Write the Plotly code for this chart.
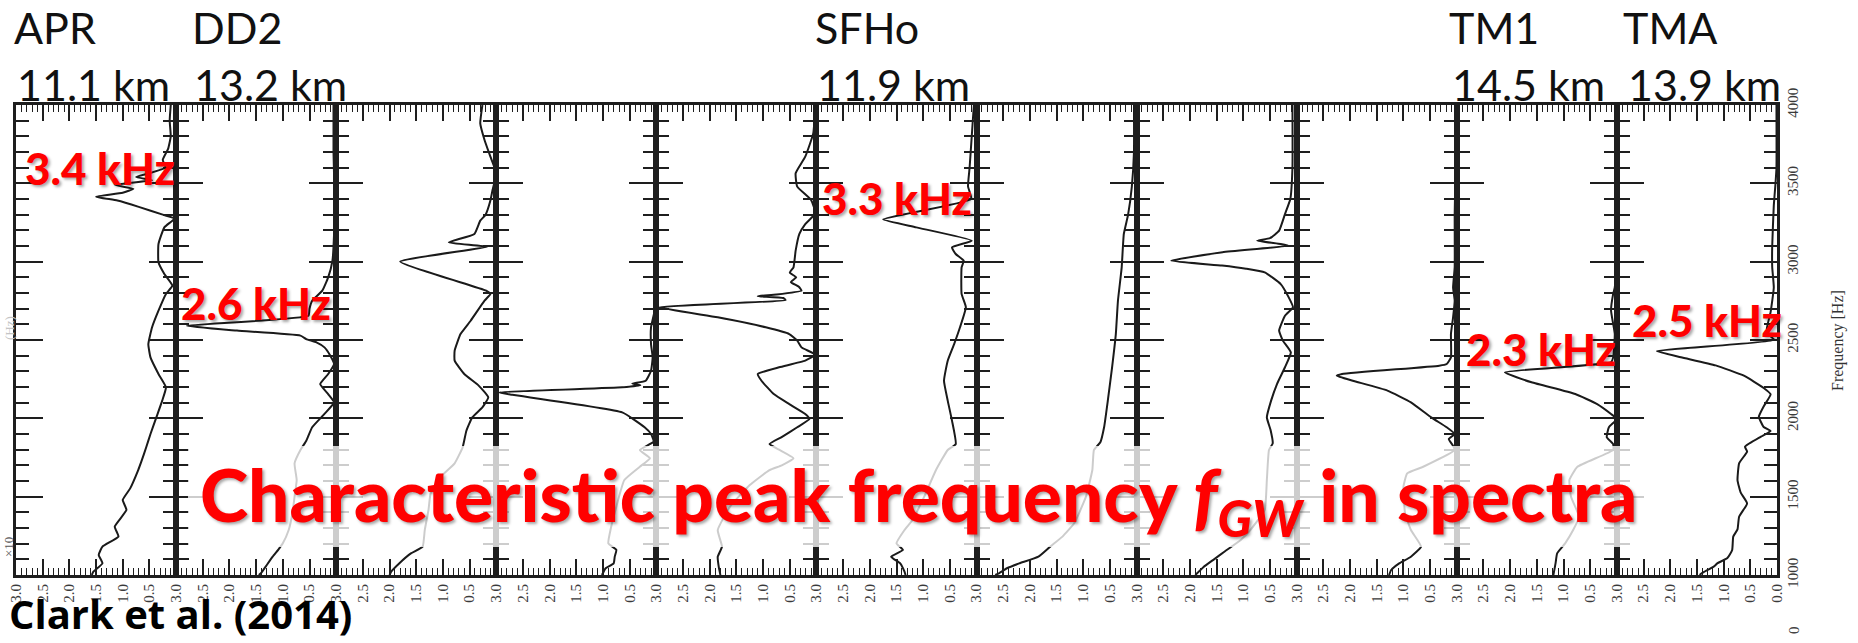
import plotly.graph_objects as go

W, H = 1858, 643
L, R, T, B = 16, 1777, 105, 575   # plot-area edges in px

# ---------------- data (frequency in Hz, spectral amplitude) ----------------
panel_names = ["APR", "DD2", "", "", "", "SFHo", "", "", "", "TM1", "TMA"]
panel_radii = ["11.1 km", "13.2 km", "", "", "", "11.9 km", "", "", "", "14.5 km", "13.9 km"]

p1_f = [4000, 3900, 3800, 3720, 3650, 3600, 3560, 3540, 3520, 3490, 3465, 3440, 3415, 3390, 3350, 3300, 3275,
        3219, 3113, 2996, 2921, 2847, 2794, 2687, 2581, 2474, 2389, 2283, 2198, 2113, 2006, 1900, 1815, 1725,
        1670, 1553, 1479, 1415, 1309, 1245, 1181, 1128, 1074, 1021, 1000]
p1_a = [0.10, 0.12, 0.10, 0.15, 0.25, 0.20, 0.55, 0.75, 0.45, 1.15, 0.80, 1.00, 1.50, 1.10, 0.70, 0.25, 0.03,
        0.22, 0.33, 0.33, 0.22, 0.07, 0.19, 0.33, 0.45, 0.52, 0.48, 0.33, 0.19, 0.26, 0.37, 0.48, 0.56, 0.65,
        0.71, 0.86, 1.00, 0.93, 1.15, 1.08, 1.38, 1.45, 1.38, 1.55, 1.58]

p2_f = [4000, 3700, 3400, 3177, 3006, 2900, 2815, 2751, 2700, 2655, 2591, 2560, 2528, 2506, 2485, 2453, 2400,
        2347, 2283, 2219, 2155, 2102, 2028, 1943, 1857, 1798, 1713, 1606, 1500, 1394, 1287, 1202, 1164, 1117,
        1064, 1011, 1000]
p2_a = [0.05, 0.05, 0.03, 0.04, 0.07, 0.15, 0.26, 0.45, 0.50, 0.52, 2.80, 1.86, 0.67, 0.56, 0.37, 0.22, 0.11,
        0.04, 0.15, 0.30, 0.15, 0.04, 0.22, 0.45, 0.56, 0.67, 0.78, 0.74, 0.78, 0.82, 0.89, 1.00, 1.08, 1.19,
        1.30, 1.41, 1.45]

p3_f = [4000, 3883, 3777, 3670, 3564, 3457, 3390, 3300, 3262, 3177, 3123, 3095, 3000, 2815, 2794, 2751, 2623,
        2538, 2432, 2368, 2283, 2209, 2134, 2070, 2006, 1921, 1815, 1713, 1628, 1521, 1415, 1287, 1181, 1138,
        1074, 1021, 1000]
p3_a = [0.26, 0.30, 0.22, 0.11, 0.00, 0.07, 0.11, 0.20, 0.30, 0.41, 0.89, 0.17, 1.80, 0.19, 0.11, 0.22, 0.48,
        0.67, 0.78, 0.78, 0.60, 0.33, 0.15, 0.26, 0.45, 0.56, 0.63, 0.78, 1.04, 1.23, 1.27, 1.34, 1.38, 1.60,
        1.82, 1.97, 2.00]

p4_f = [4000, 3500, 3000, 2709, 2581, 2474, 2389, 2304, 2240, 2222, 2212, 2198, 2166, 2150, 2038, 1943, 1900,
        1851, 1798, 1745, 1691, 1606, 1436, 1287, 1202, 1160, 1117, 1074, 1043, 1000]
p4_a = [0.02, 0.03, 0.03, 0.02, 0.10, 0.10, 0.07, 0.10, 0.20, 0.45, 0.30, 0.64, 2.95, 2.70, 0.64, 0.22, 0.10,
        0.05, 0.31, 0.12, 0.31, 0.60, 0.75, 0.86, 0.90, 0.75, 0.78, 0.80, 0.95, 1.02]

p5_f = [4000, 3819, 3670, 3564, 3479, 3394, 3309, 3240, 3177, 3070, 2964, 2930, 2900, 2870, 2840, 2815, 2790,
        2780, 2768, 2755, 2709, 2645, 2581, 2538, 2496, 2453, 2406, 2368, 2326, 2283, 2240, 2155, 2091, 2028,
        1996, 1943, 1879, 1836, 1800, 1745, 1700, 1670, 1574, 1436, 1287, 1181, 1117, 1050, 1000]
p5_a = [0.02, 0.06, 0.21, 0.39, 0.36, 0.10, 0.02, 0.21, 0.32, 0.39, 0.43, 0.50, 0.38, 0.48, 0.33, 0.28, 0.75,
        1.10, 0.62, 0.58, 2.95, 1.85, 0.95, 0.51, 0.36, 0.28, 0.02, 0.21, 0.70, 1.10, 1.03, 0.80, 0.51, 0.21,
        0.13, 0.36, 0.66, 0.88, 0.70, 0.43, 0.65, 0.88, 1.25, 1.62, 1.85, 1.77, 1.85, 1.83, 1.80]

p6_f = [4000, 3800, 3600, 3480, 3400, 3270, 3219, 3134, 3091, 3049, 3006, 2964, 2794, 2709, 2581, 2474, 2368,
        2240, 2113, 1985, 1836, 1798, 1670, 1500, 1351, 1287, 1202, 1160, 1117, 1074, 1021, 1000]
p6_a = [0.05, 0.09, 0.13, 0.16, 0.10, 1.75, 1.13, 0.09, 0.46, 0.39, 0.24, 0.28, 0.28, 0.20, 0.31, 0.42, 0.54,
        0.61, 0.54, 0.46, 0.39, 0.54, 0.76, 0.98, 1.20, 1.35, 1.50, 1.38, 1.60, 1.43, 1.35, 1.33]

p7_f = [4000, 3700, 3479, 3300, 3177, 2964, 2751, 2538, 2326, 2113, 1943, 1847, 1798, 1670, 1500, 1330, 1245,
        1181, 1117, 1074, 1043, 1011, 1000]
p7_a = [0.05, 0.05, 0.09, 0.16, 0.24, 0.28, 0.35, 0.39, 0.46, 0.54, 0.61, 0.68, 0.80, 0.83, 0.95, 1.17, 1.39,
        1.62, 1.84, 2.20, 2.43, 2.58, 2.65]

p8_f = [4000, 3600, 3400, 3304, 3198, 3150, 3134, 3113, 3102, 3060, 3006, 2975, 2955, 2932, 2857, 2772, 2709,
        2655, 2560, 2496, 2421, 2326, 2219, 2113, 2006, 1925, 1840, 1798, 1606, 1415, 1287, 1223, 1150, 1100,
        1050, 1000]
p8_a = [0.08, 0.08, 0.12, 0.22, 0.33, 0.50, 0.74, 0.30, 0.15, 1.39, 2.35, 1.40, 0.95, 0.60, 0.30, 0.15, 0.07,
        0.22, 0.33, 0.26, 0.11, 0.22, 0.37, 0.48, 0.56, 0.49, 0.45, 0.52, 0.56, 0.60, 0.87, 1.05, 1.35, 1.55,
        1.75, 1.90]

p9_f = [4000, 3500, 3300, 2964, 2836, 2751, 2645, 2538, 2389, 2347, 2336, 2283, 2272, 2240, 2177, 2102, 2006,
        1943, 1900, 1868, 1830, 1798, 1691, 1649, 1564, 1394, 1287, 1181, 1117, 1074, 1032, 1000]
p9_a = [0.03, 0.03, 0.04, 0.04, 0.07, 0.04, 0.07, 0.11, 0.11, 0.19, 0.33, 2.15, 2.25, 1.95, 1.30, 0.86, 0.48,
        0.19, 0.04, 0.15, 0.08, 0.04, 0.63, 0.93, 1.00, 0.97, 0.86, 0.67, 0.86, 1.08, 1.23, 1.27]

p10_f = [4000, 3000, 2836, 2794, 2688, 2538, 2389, 2357, 2294, 2230, 2155, 2091, 2028, 1996, 1943, 1879, 1836,
         1798, 1691, 1606, 1500, 1372, 1287, 1202, 1138, 1074, 1000]
p10_a = [0.02, 0.02, 0.04, 0.07, 0.11, 0.04, 0.07, 0.11, 2.10, 1.60, 0.78, 0.37, 0.11, 0.00, 0.15, 0.19, 0.07,
         0.07, 0.74, 0.89, 0.86, 0.71, 0.82, 0.97, 1.12, 1.15, 1.19]

p11_f = [4000, 3600, 3490, 3359, 3097, 2966, 2835, 2678, 2573, 2534, 2500, 2429, 2390, 2338, 2272, 2194, 2154,
         2076, 2010, 1945, 1919, 1883, 1819, 1788, 1713, 1605, 1526, 1457, 1372, 1291, 1245, 1160, 1108, 1074,
         1055, 1011, 1000]
p11_a = [0.01, 0.01, 0.03, 0.06, 0.09, 0.09, 0.06, 0.12, 0.19, 0.15, 0.05, 2.25, 1.80, 1.15, 0.62, 0.25, 0.12,
         0.25, 0.34, 0.25, 0.12, 0.30, 0.60, 0.56, 0.71, 0.74, 0.68, 0.56, 0.71, 0.74, 0.82, 0.84, 0.93, 1.12,
         1.18, 1.41, 1.45]

freqs = [p1_f, p2_f, p3_f, p4_f, p5_f, p6_f, p7_f, p8_f, p9_f, p10_f, p11_f]
amps = [p1_a, p2_a, p3_a, p4_a, p5_a, p6_a, p7_a, p8_a, p9_a, p10_a, p11_a]

amp_ticks = [3.0, 2.5, 2.0, 1.5, 1.0, 0.5]
amp_ticks_last = [3.0, 2.5, 2.0, 1.5, 1.0, 0.5, 0.0]
freq_range = [1000, 4000]

peak_labels = ["3.4 kHz", "2.6 kHz", "3.3 kHz", "2.3 kHz", "2.5 kHz"]
peak_label_pos = [(23, 168), (179, 303), (820, 198), (1464, 349), (1630, 320)]  # left x, center y (px)

title_text = "Characteristic peak frequency <i>f<sub>GW</sub></i> in spectra"
source_text = "Clark et al. (2014)"

# ---------------- helpers ----------------
def xp(px):
    return (px - L) / (R - L)

def yp(py):
    return (B - py) / (B - T)

n = len(freqs)
fig = go.Figure()
AX = "#1e1e1e"
serif = "Liberation Serif"

for i in range(n):
    sfx = "" if i == 0 else str(i + 1)
    fig.add_trace(go.Scatter(
        x=amps[i], y=freqs[i], mode="lines",
        line=dict(color="#1a1a1a", width=2, shape="spline", smoothing=0.4),
        xaxis="x" + sfx, yaxis="y" + sfx, showlegend=False, hoverinfo="skip"))
    last = (i == n - 1)
    tv = amp_ticks_last if last else amp_ticks
    fig.layout["xaxis" + sfx] = dict(
        domain=[i / n, (i + 1) / n], anchor="y" + sfx, range=[3.0, 0.0],
        tickmode="array", tickvals=tv, ticktext=["%.1f" % v for v in tv],
        ticks="inside", ticklen=16, tickwidth=1.6, tickcolor=AX,
        minor=dict(tickmode="linear", tick0=0, dtick=0.1, ticks="inside", ticklen=7,
                   tickwidth=1.3, tickcolor=AX),
        showline=True, linewidth=3, linecolor=AX, mirror="allticks",
        showgrid=False, zeroline=False, tickangle=-90,
        tickfont=dict(family=serif, size=15, color="#3a3a3a"), automargin=False)
    fig.layout["yaxis" + sfx] = dict(
        anchor="x" + sfx, range=freq_range, tickmode="linear", tick0=1000, dtick=500,
        ticks="inside", ticklen=27, tickwidth=1.8, tickcolor=AX,
        minor=dict(tickmode="linear", tick0=1000, dtick=100, ticks="inside", ticklen=13,
                   tickwidth=1.6, tickcolor=AX),
        showline=True, linewidth=3, linecolor=AX, mirror="allticks",
        showgrid=False, zeroline=False,
        showticklabels=last, side="right" if last else "left", tickangle=-90,
        tickfont=dict(family=serif, size=15, color="#3a3a3a"), automargin=False,
        **({} if i == 0 else {"matches": "y"}))

def note(px, py, text, font, **kw):
    d = dict(x=xp(px), y=yp(py), xref="paper", yref="paper", text=text, showarrow=False,
             xanchor="left", yanchor="middle", font=font)
    d.update(kw)
    return d

ann = []
# EOS names and radii above the panels
name_x = [12, 190, None, None, None, 813, None, None, None, 1447, 1621]
rad_x = [15, 192, None, None, None, 815, None, None, None, 1450, 1626]
for i in range(n):
    if panel_names[i]:
        ann.append(note(name_x[i], 27, panel_names[i], dict(family="Lato", size=43, color="#111")))
        ann.append(note(rad_x[i], 85, panel_radii[i], dict(family="Lato", size=43, color="#111")))

shadow = "2px 2px 3px rgba(0,0,0,0.35)"
for txt, (px, py) in zip(peak_labels, peak_label_pos):
    ann.append(note(px, py, txt,
                    dict(family="Lato", size=44, color="#ff0000", weight=900, shadow=shadow)))

ann.append(note(198, 499, title_text,
                dict(family="Lato", size=73, color="#ff0000", weight=900, shadow=shadow)))
ann.append(note(7, 643, "<b>%s</b>" % source_text, dict(family="Open Sans", size=40, color="#000"),
                yanchor="bottom"))
ann.append(note(1838, 340, "Frequency [Hz]", dict(family=serif, size=16, color="#333"),
                textangle=-90, xanchor="center"))
ann.append(note(8, 547, "×10", dict(family=serif, size=13, color="#555"), textangle=-90, xanchor="center"))
ann.append(note(9, 328, "(Hz)", dict(family=serif, size=13, color="#c4c4c4"), textangle=-90, xanchor="center"))
ann.append(note(1794, 630, "0", dict(family=serif, size=15, color="#444"), textangle=-90, xanchor="center"))

fig.update_layout(
    width=W, height=H, autosize=False,
    margin=dict(l=L, r=W - R, t=T, b=H - B, pad=0),
    paper_bgcolor="white", plot_bgcolor="white",
    annotations=ann,
    shapes=[dict(type="rect", xref="paper", yref="paper",
                 x0=xp(188), x1=xp(1650), y0=yp(547), y1=yp(446),
                 fillcolor="rgba(255,255,255,0.78)", line=dict(width=0), layer="above")],
)

fig.write_html("out.html")
